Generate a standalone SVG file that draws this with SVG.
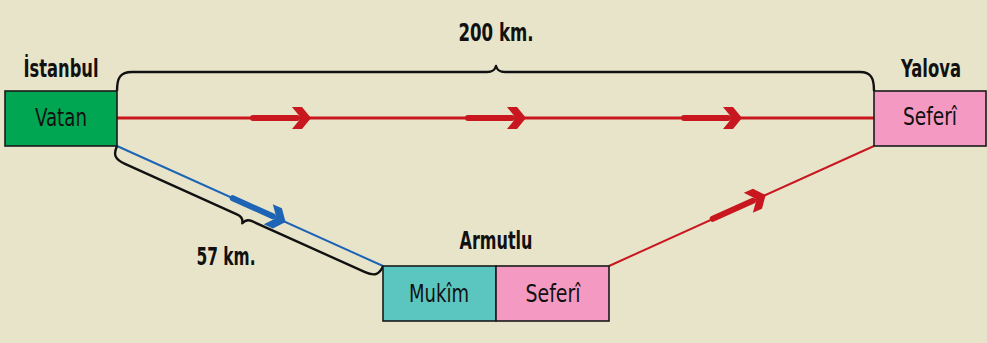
<svg xmlns="http://www.w3.org/2000/svg" xmlns:xlink="http://www.w3.org/1999/xlink" width="987" height="343" viewBox="0 0 987 343">
<style>
.t{font-family:"Liberation Sans Narrow","DejaVu Sans Condensed","Liberation Sans",sans-serif;font-size:25px;fill:#111;text-anchor:middle}
.b{font-weight:bold;font-size:24px}
.box{stroke:#1a1a1a;stroke-width:1.6}
.brace{fill:none;stroke:#111;stroke-width:2.4;stroke-linejoin:round}
</style>
<defs>
<g id="arr">
<rect x="0" y="-3" width="50" height="6" rx="3"/>
<polygon points="42,-11 52,-11 61,0 52,11 42,11 51,0"/>
</g>
</defs>
<rect width="987" height="343" fill="#E8E4CA"/>
<g id="connectors">
<line x1="117" y1="118" x2="874" y2="118" stroke="#C8171E" stroke-width="3"/>
<line x1="117" y1="146" x2="383" y2="266" stroke="#1E64B4" stroke-width="2"/>
<line x1="609" y1="266" x2="874" y2="146" stroke="#C8171E" stroke-width="2"/>
<use xlink:href="#arr" href="#arr" fill="#C8171E" transform="translate(250,118)"/>
<use xlink:href="#arr" href="#arr" fill="#C8171E" transform="translate(465,118)"/>
<use xlink:href="#arr" href="#arr" fill="#C8171E" transform="translate(681,118)"/>
<use xlink:href="#arr" href="#arr" fill="#1E64B4" transform="translate(230,197) rotate(24.28)"/>
<use xlink:href="#arr" href="#arr" fill="#C8171E" transform="translate(710,220) rotate(-24.13)"/>
</g>
<g id="brace-200">
<path class="brace" d="M117,91 C117,78 120,72 132,72 L487,72 C493,72 495,70 496,66 C497,70 499,72 505,72 L860,72 C871,72 874,78 874,91"/>
<text class="t b" x="496" y="41" textLength="75" lengthAdjust="spacingAndGlyphs">200 km.</text>
</g>
<g id="brace-57">
<path class="brace" transform="translate(117,146) rotate(24.28)" d="M0,0 C0,9 3,13 14,13 L138,13 C143,13 145,15 146,19 C147,15 149,13 154,13 L278,13 C289,13 292,9 292,0"/>
<text class="t b" x="226" y="265" textLength="59" lengthAdjust="spacingAndGlyphs">57 km.</text>
</g>
<g id="istanbul">
<text class="t b" x="61" y="77" textLength="75" lengthAdjust="spacingAndGlyphs">İstanbul</text>
<rect class="box" x="5" y="91" width="112" height="55" fill="#00A651"/>
<text class="t" x="61" y="126" textLength="52" lengthAdjust="spacingAndGlyphs">Vatan</text>
</g>
<g id="yalova">
<text class="t b" x="931" y="77" textLength="60" lengthAdjust="spacingAndGlyphs">Yalova</text>
<rect class="box" x="874" y="91" width="112" height="55" fill="#F49AC2"/>
<text class="t" x="930" y="125" textLength="54" lengthAdjust="spacingAndGlyphs">Seferî</text>
</g>
<g id="armutlu">
<text class="t b" x="496" y="249" textLength="73" lengthAdjust="spacingAndGlyphs">Armutlu</text>
<rect class="box" x="383" y="266" width="113" height="55" fill="#5BC6BF"/>
<text class="t" x="439" y="302" textLength="60" lengthAdjust="spacingAndGlyphs">Mukîm</text>
<rect class="box" x="496" y="266" width="113" height="55" fill="#F49AC2"/>
<text class="t" x="553" y="302" textLength="55" lengthAdjust="spacingAndGlyphs">Seferî</text>
</g>
</svg>
